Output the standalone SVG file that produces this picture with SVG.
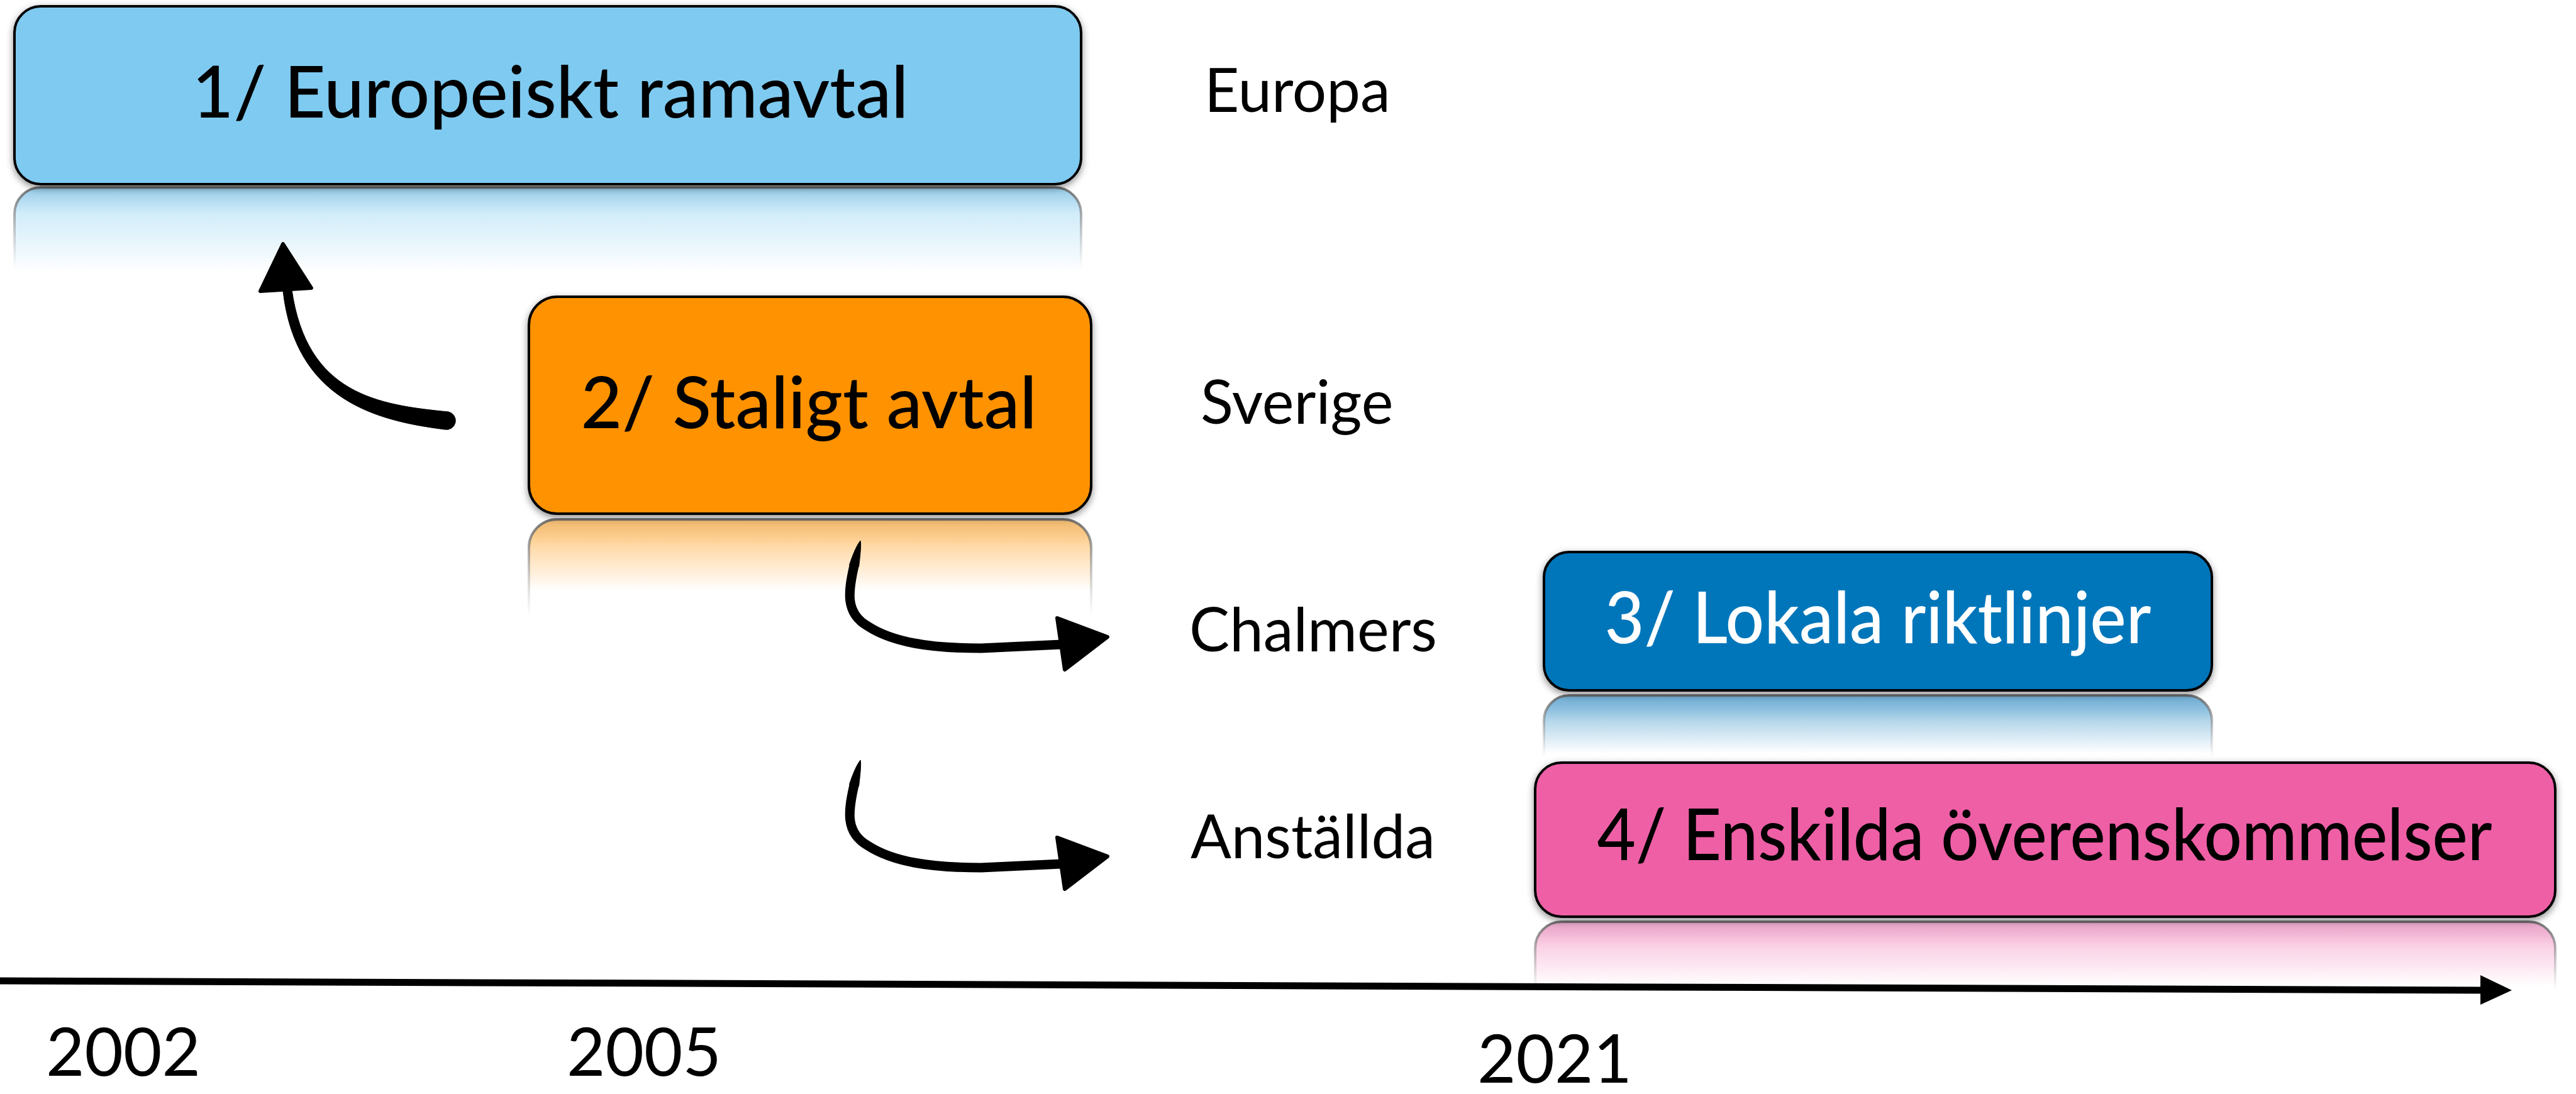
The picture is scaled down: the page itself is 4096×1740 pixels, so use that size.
<svg xmlns="http://www.w3.org/2000/svg" width="4096" height="1740" viewBox="0 0 4096 1740">
<defs>
<style>
.box{stroke:#000;stroke-width:4}
.title{font-family:Lato,"Noto Sans",sans-serif;font-size:114px;font-weight:500;text-anchor:middle;fill:#000}
.lbl{font-family:Lato,"Noto Sans",sans-serif;font-size:96px;fill:#000}
.year{font-family:Lato,"Noto Sans",sans-serif;font-size:106px;fill:#000}
.ink{fill:#000;stroke:#000;stroke-linejoin:round}
.hook{fill:none;stroke:#000;stroke-width:15;stroke-linecap:round;stroke-linejoin:round}
.rstroke{stroke:url(#gs);stroke-width:4}
</style>
<filter id="sh" x="-5%" y="-15%" width="110%" height="135%">
<feDropShadow dx="0" dy="4" stdDeviation="6" flood-color="#000" flood-opacity="0.45"/>
</filter>
<linearGradient id="gs" x1="0" y1="0" x2="0" y2="1">
<stop offset="0" stop-color="#666" stop-opacity="0.9"/>
<stop offset="0.45" stop-color="#999" stop-opacity="0"/>
</linearGradient>
<linearGradient id="g1" x1="0" y1="0" x2="0" y2="1">
<stop offset="0" stop-color="#6fb7dd" stop-opacity="0.75"/>
<stop offset="0.15" stop-color="#7FCAF0" stop-opacity="0.35"/>
<stop offset="0.48" stop-color="#7FCAF0" stop-opacity="0"/>
</linearGradient>
<linearGradient id="g2" x1="0" y1="0" x2="0" y2="1">
<stop offset="0" stop-color="#e8a040" stop-opacity="0.75"/>
<stop offset="0.12" stop-color="#FF9200" stop-opacity="0.35"/>
<stop offset="0.33" stop-color="#FF9200" stop-opacity="0"/>
</linearGradient>
<linearGradient id="g3" x1="0" y1="0" x2="0" y2="1">
<stop offset="0" stop-color="#3f8fc4" stop-opacity="0.75"/>
<stop offset="0.18" stop-color="#0076BA" stop-opacity="0.3"/>
<stop offset="0.42" stop-color="#0076BA" stop-opacity="0"/>
</linearGradient>
<linearGradient id="g4" x1="0" y1="0" x2="0" y2="1">
<stop offset="0" stop-color="#d985b3" stop-opacity="0.75"/>
<stop offset="0.15" stop-color="#EE5FA6" stop-opacity="0.3"/>
<stop offset="0.42" stop-color="#EE5FA6" stop-opacity="0"/>
</linearGradient>
</defs>
<rect width="4096" height="1740" fill="#fff"/>

<g id="node1">
<rect x="23" y="298" width="1696" height="283" rx="42" fill="url(#g1)" class="rstroke"/>
<rect class="box" x="23" y="10" width="1696" height="283" rx="42" fill="#7FCAF0" filter="url(#sh)"/>
<text class="title" x="875" y="187" textLength="1139" lengthAdjust="spacingAndGlyphs">1/ Europeiskt ramavtal</text>
</g>

<g id="node2">
<rect x="841" y="826" width="894" height="345" rx="45" fill="url(#g2)" class="rstroke"/>
<rect class="box" x="841" y="472" width="894" height="345" rx="45" fill="#FF9200" filter="url(#sh)"/>
<text class="title" x="1286" y="681" textLength="725" lengthAdjust="spacingAndGlyphs">2/ Staligt avtal</text>
</g>

<g id="node3">
<rect x="2455" y="1106" width="1062" height="220" rx="40" fill="url(#g3)" class="rstroke"/>
<rect class="box" x="2455" y="878" width="1062" height="220" rx="40" fill="#0076BA" filter="url(#sh)"/>
<text class="title" x="2986" y="1023" style="fill:#fff" textLength="869" lengthAdjust="spacingAndGlyphs">3/ Lokala riktlinjer</text>
</g>

<g id="node4">
<rect x="2441" y="1466" width="1622" height="245" rx="42" fill="url(#g4)" class="rstroke"/>
<rect class="box" x="2441" y="1213" width="1622" height="245" rx="42" fill="#EE5FA6" filter="url(#sh)"/>
<text class="title" x="3251" y="1368" textLength="1423" lengthAdjust="spacingAndGlyphs">4/ Enskilda överenskommelser</text>
</g>

<g id="labels">
<text class="lbl" x="1915" y="178">Europa</text>
<text class="lbl" x="1909" y="674">Sverige</text>
<text class="lbl" x="1891" y="1036">Chalmers</text>
<text class="lbl" x="1893" y="1365">Anställda</text>
<text class="year" x="73" y="1711">2002</text>
<text class="year" x="901" y="1711">2005</text>
<text class="year" x="2349" y="1722">2021</text>
</g>

<g id="connectors">
<g id="arrow1">
<path class="ink" stroke-width="1" d="M 713 655 C 600 644 488 627 464 461 L 450 463 C 470 636 597 669 707 683 A 14 14 0 0 0 713 655 Z"/>
<polygon class="ink" stroke-width="6" points="450,388 414,463 495,458"/>
</g>

<g id="hook2">
<path class="hook" d="M1358,900 C1349,940 1343,975 1380,996 C1420,1022 1480,1031 1560,1031 L1688,1025"/>
<path class="ink" stroke-width="1" d="M1368,860 Q1370,866 1365.5,901.5 L1350.5,898.5 Q1360,870 1368,860 Z"/>
<polygon class="ink" stroke-width="6" points="1681,983 1761,1013 1693,1065"/>
</g>
<g id="hook3" transform="translate(0,349)">
<path class="hook" d="M1358,900 C1349,940 1343,975 1380,996 C1420,1022 1480,1031 1560,1031 L1688,1025"/>
<path class="ink" stroke-width="1" d="M1368,860 Q1370,866 1365.5,901.5 L1350.5,898.5 Q1360,870 1368,860 Z"/>
<polygon class="ink" stroke-width="6" points="1681,983 1761,1013 1693,1065"/>
</g>

<g id="timeline">
<path d="M0,1560 L3950,1575" stroke="#000" stroke-width="11" fill="none"/>
<polygon fill="#000" points="3944,1551 3994,1575 3944,1598"/>
</g>
</g>
</svg>
